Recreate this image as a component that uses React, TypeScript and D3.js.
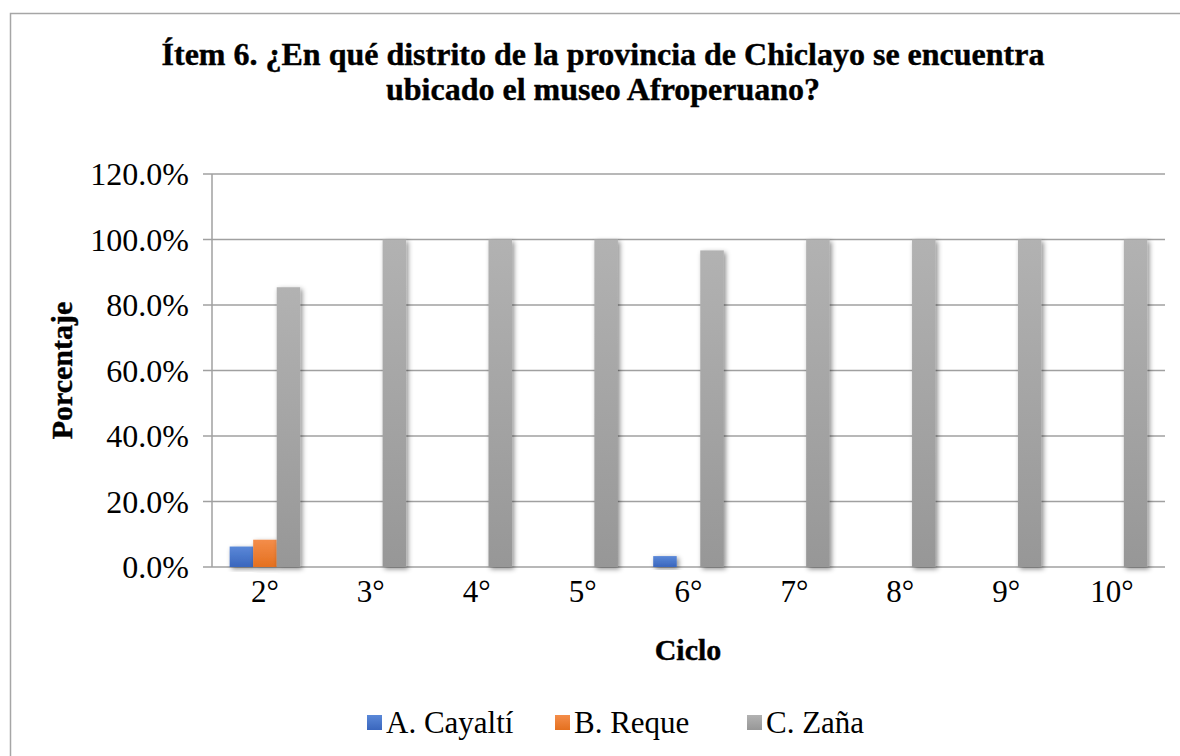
import React from "react";
import * as d3 from "d3";

const categories = ["2°", "3°", "4°", "5°", "6°", "7°", "8°", "9°", "10°"];
const seriesNames = ["A. Cayaltí", "B. Reque", "C. Zaña"];
const cayalti = [6.25, 0, 0, 0, 3.33, 0, 0, 0, 0];
const reque = [8.33, 0, 0, 0, 0, 0, 0, 0, 0];
const zana = [85.42, 100, 100, 100, 96.67, 100, 100, 100, 100];
const yTicks = [0, 20, 40, 60, 80, 100, 120];
const titleLines = [
  "Ítem 6. ¿En qué distrito de la provincia de Chiclayo se encuentra",
  "ubicado el museo Afroperuano?",
];

const seriesValues = [cayalti, reque, zana];
const colors = [
  ["#5a88d8", "#3a66bd"],
  ["#f48d4a", "#e4701f"],
  ["#b2b2b2", "#979797"],
];

const W = 1180;
const H = 756;
const FONT = "'Times New Roman', 'Liberation Serif', serif";

export default function App() {
  const plotLeft = 212;
  const plotRight = 1165;
  const plotTop = 174;
  const plotBottom = 567;

  const x0 = d3.scaleBand<string>().domain(categories).range([plotLeft, plotRight]).padding(0);
  const catW = x0.bandwidth();
  const gap = (catW * 0.75) / 4.5;
  const x1 = d3.scaleBand<string>().domain(seriesNames).range([gap, catW - gap]).padding(0);
  const y = d3.scaleLinear().domain([0, 120]).range([plotBottom, plotTop]);

  const legendItems = [
    { name: seriesNames[0], x: 367 },
    { name: seriesNames[1], x: 555 },
    { name: seriesNames[2], x: 747 },
  ];

  const bold = { fontFamily: FONT, fontWeight: 700 } as React.CSSProperties;
  const reg = { fontFamily: FONT, fontWeight: 400 } as React.CSSProperties;

  return (
    <svg width={W} height={H} style={{ position: "absolute", left: 0, top: 0 }}>
      <defs>
        {colors.map((c, i) => (
          <linearGradient key={i} id={`g${i}`} x1="0" y1="0" x2="0" y2="1">
            <stop offset="0%" stopColor={c[0]} />
            <stop offset="100%" stopColor={c[1]} />
          </linearGradient>
        ))}
        <filter id="shadow" x="-50%" y="-20%" width="200%" height="140%">
          <feDropShadow dx="2" dy="2" stdDeviation="2.5" floodColor="#000" floodOpacity="0.45" />
        </filter>
      </defs>
      <rect x={0} y={0} width={W} height={H} fill="#fff" />
      <rect x={10.5} y={13.5} width={W + 20} height={H + 20} fill="none" stroke="#a6a6a6" strokeWidth={1.5} />

      {titleLines.map((t, i) => (
        <text
          key={i}
          x={603}
          y={65 + i * 35}
          textAnchor="middle"
          fontSize={32}
          style={bold}
          fill="#000"
          stroke="#000"
          strokeWidth={0.4}
        >
          {t}
        </text>
      ))}

      {yTicks.map((t) => (
        <g key={t}>
          <line x1={plotLeft - 9} x2={plotRight} y1={y(t)} y2={y(t)} stroke="#a0a0a0" strokeWidth={1.5} />
          <text x={189} y={y(t)} dy="0.35em" textAnchor="end" fontSize={32} style={reg} fill="#000">
            {t.toFixed(1) + "%"}
          </text>
        </g>
      ))}
      <line x1={plotLeft} x2={plotLeft} y1={plotTop} y2={plotBottom} stroke="#a0a0a0" strokeWidth={1.5} />

      {categories.map((c, ci) => (
        <g key={c} transform={`translate(${x0(c)},0)`}>
          {seriesNames.map((s, si) => {
            const v = seriesValues[si][ci];
            if (!v) return null;
            return (
              <rect
                key={s}
                x={x1(s)}
                y={y(v)}
                width={x1.bandwidth()}
                height={y(0) - y(v)}
                fill={`url(#g${si})`}
                filter="url(#shadow)"
              />
            );
          })}
          <text x={catW / 2} y={602} textAnchor="middle" fontSize={31} style={reg} fill="#000">
            {c}
          </text>
        </g>
      ))}

      <text x={688} y={660} textAnchor="middle" fontSize={30} style={bold} fill="#000" stroke="#000" strokeWidth={0.4}>
        Ciclo
      </text>
      <text
        transform={`translate(72,${(plotTop + plotBottom) / 2}) rotate(-90)`}
        textAnchor="middle"
        fontSize={30}
        style={bold}
        fill="#000"
        stroke="#000"
        strokeWidth={0.4}
      >
        Porcentaje
      </text>

      {legendItems.map((it, i) => (
        <g key={it.name}>
          <rect x={it.x} y={715} width={15} height={15} fill={`url(#g${i})`} />
          <text x={it.x + 19} y={733} fontSize={31} style={reg} fill="#000">
            {it.name}
          </text>
        </g>
      ))}
    </svg>
  );
}
